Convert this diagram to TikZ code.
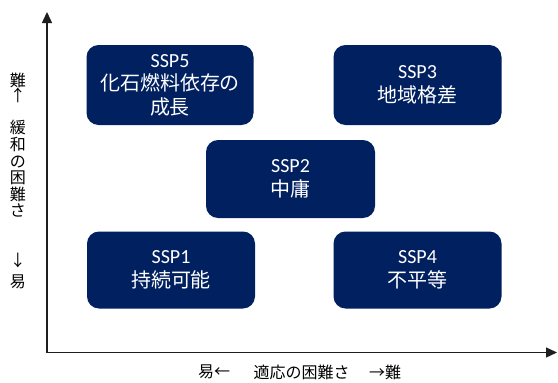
\documentclass[tikz,border=0pt]{standalone}
\usepackage{fontspec}
\setmainfont{Carlito}
\newfontfamily\jp{Noto Sans CJK JP}
\usetikzlibrary{arrows.meta}
\definecolor{navy}{RGB}{0,32,96}
\definecolor{axisgray}{RGB}{30,30,30}
\tikzset{
  sspbox/.style={draw=none, fill=navy, rounded corners=12pt, text=white,
    align=center, font=\fontsize{20}{23.5}\selectfont, inner sep=0pt},
  axisline/.style={draw=axisgray, line width=1.4pt, -{Triangle[length=11pt,width=10pt]}},
  axislabel/.style={font=\jp\fontsize{16}{16.6}\selectfont, inner sep=0pt, align=center, text=black},
  vlabel/.style={axislabel, text width=18pt}
}
\begin{document}
\begin{tikzpicture}[x=1pt,y=-1pt]
\useasboundingbox (0,0) rectangle (558,383);
\coordinate (O) at (47,352.5);
\coordinate (ytip) at (47,12);
\coordinate (xtip) at (557,352.5);
\draw[axisline] (O) -- (ytip);
\draw[axisline] (O) -- (xtip);

\node[sspbox, minimum width=167pt, minimum height=80pt] (ssp5) at (170,85) {SSP5\\{\jp 化石燃料依存の}\\{\jp 成長}};
\node[sspbox, minimum width=168pt, minimum height=80pt] (ssp3) at (417.5,85) {SSP3\\{\jp 地域格差}};
\node[sspbox, minimum width=169pt, minimum height=78pt] (ssp2) at (290.5,179) {SSP2\\{\jp 中庸}};
\node[sspbox, minimum width=168pt, minimum height=77pt] (ssp1) at (171,270) {SSP1\\{\jp 持続可能}};
\node[sspbox, minimum width=168pt, minimum height=77pt] (ssp4) at (417.5,270) {SSP4\\{\jp 不平等}};

% y-axis label (vertical)
\node[vlabel, font=\jp\fontsize{16}{15}\selectfont] (ytop) at (18,88) {難\par ↑};
\node[vlabel] (ymid) at (18,169) {緩\par 和\par の\par 困\par 難\par さ};
\node[vlabel, font=\jp\fontsize{16}{21}\selectfont] (ybot) at (18,271) {↓\par 易};

% x-axis label
\node[axislabel] (xl) at (214,372) {易←};
\node[axislabel] (xm) at (301.5,372) {適応の困難さ};
\node[axislabel] (xr) at (385,372) {→難};
\end{tikzpicture}
\end{document}
